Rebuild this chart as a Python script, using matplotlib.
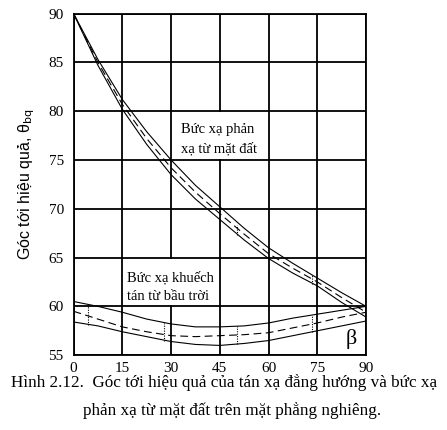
import matplotlib
matplotlib.use("Agg")
import matplotlib.pyplot as plt
from matplotlib.patches import Rectangle

# angle of tilt (deg)
beta = [0, 7.5, 15, 22.5, 30, 37.5, 45, 52.5, 60, 67.5, 75, 82.5, 90]

# ground reflected radiation: upper / middle (dashed) / lower
ground_hi = [90, 85.3, 81.2, 77.9, 75.0, 72.4, 70.2, 68.0, 66.0, 64.4, 62.9, 61.4, 60.0]
ground_mid = [90, 85.0, 80.7, 77.2, 74.2, 71.7, 69.5, 67.4, 65.4, 63.9, 62.5, 60.9, 59.4]
ground_lo = [90, 84.7, 80.2, 76.6, 73.5, 71.0, 68.9, 66.8, 64.9, 63.4, 62.1, 60.4, 58.9]

# diffuse sky radiation
sky_hi = [60.5, 60.0, 59.4, 58.7, 58.2, 57.9, 57.9, 58.0, 58.3, 58.8, 59.2, 59.6, 60.0]
sky_mid = [59.5, 58.7, 57.9, 57.4, 57.0, 56.9, 57.0, 57.1, 57.3, 57.8, 58.3, 58.9, 59.4]
sky_lo = [58.4, 58.0, 57.4, 56.9, 56.4, 56.1, 56.0, 56.2, 56.5, 57.0, 57.5, 58.0, 58.5]

# dotted bars
ground_bars = [(50.3, 68.3, 67.3), (73.5, 63.2, 62.3)]
sky_bars = [(4.3, 60.1, 58.1), (27.7, 58.3, 56.5), (50.3, 58.0, 56.1), (73.5, 59.1, 57.4)]

xticks = [0, 15, 30, 45, 60, 75, 90]
yticks = [55, 60, 65, 70, 75, 80, 85, 90]

serif = "Liberation Serif"

fig = plt.figure(figsize=(4.47, 4.30), dpi=100)
ax = fig.add_axes([0.1645, 0.174, 0.6545, 0.7945])
ax.set_xlim(0, 90)
ax.set_ylim(55, 90)

# grid: verticals under the label boxes, horizontals above
for x in xticks:
    ax.axvline(x, color="black", lw=1.3, zorder=1)
for y in yticks:
    ax.axhline(y, color="black", lw=1.3, zorder=3)
ax.add_patch(Rectangle((30.6, 75.1), 29.0, 4.8, facecolor="white", edgecolor="none", zorder=2))
ax.add_patch(Rectangle((15.6, 60.1), 29.0, 4.8, facecolor="white", edgecolor="none", zorder=2))

for hi, mid, lo in [(ground_hi, ground_mid, ground_lo), (sky_hi, sky_mid, sky_lo)]:
    ax.plot(beta, hi, color="black", lw=0.8, zorder=4)
    ax.plot(beta, lo, color="black", lw=0.8, zorder=4)
    ax.plot(beta, mid, color="black", lw=0.8, dashes=(7, 4), zorder=4)

for b, top, bot in ground_bars + sky_bars:
    ax.plot([b, b], [bot, top], color="black", lw=0.8, ls=(0, (1, 1.2)), zorder=4)

for s in ax.spines.values():
    s.set_linewidth(1.3)
    s.set_zorder(5)

ax.set_xticks(xticks)
ax.set_yticks(yticks)
ax.tick_params(axis="x", length=0, pad=5)
ax.tick_params(axis="y", length=0, pad=7)
for lab in ax.get_xticklabels() + ax.get_yticklabels():
    lab.set_fontfamily(serif)
    lab.set_fontsize(11)

ax.set_ylabel("Góc tới hiệu quả, θ$_{\\rm bq}$", fontsize=11.5, family="Liberation Sans", labelpad=8)

ax.text(33.0, 77.1, "Bức xạ phản\nxạ từ mặt đất", fontsize=10.5, family=serif,
        va="center", ha="left", linespacing=1.6, zorder=6)
ax.text(16.6, 62.0, "Bức xạ khuếch\ntán từ bầu trời", fontsize=10.5, family=serif,
        va="center", ha="left", linespacing=1.6, zorder=6)
ax.text(85.3, 56.7, "β", fontsize=16, family=serif, ha="center", va="center", zorder=6)

fig.text(224 / 447, 1 - 383 / 430, "Hình 2.12.  Góc tới hiệu quả của tán xạ đẳng hướng và bức xạ",
         fontsize=12.3, family=serif, ha="center", va="center")
fig.text(232 / 447, 1 - 411 / 430, "phản xạ từ mặt đất trên mặt phẳng nghiêng.",
         fontsize=12.3, family=serif, ha="center", va="center")

fig.savefig("out.png", dpi=100)
